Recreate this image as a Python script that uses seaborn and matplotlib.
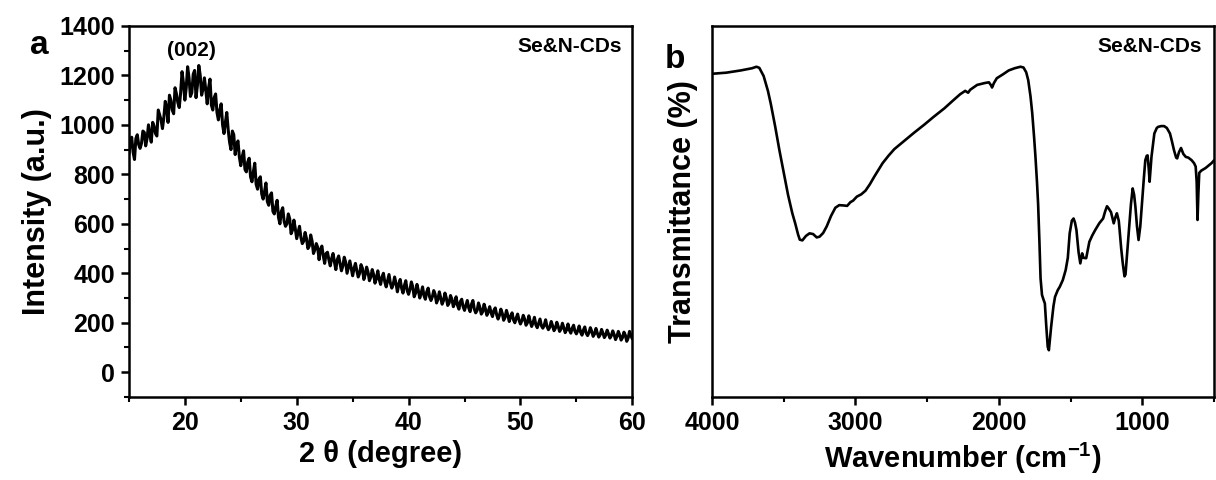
import numpy as np
import pandas as pd
import seaborn as sns
import matplotlib.pyplot as plt
from matplotlib.ticker import MultipleLocator

# XRD pattern, 2-theta from 15 to 60 in 0.25 steps
xrd_angle = np.arange(15.0, 60.01, 0.25)
xrd_intensity = [
    880, 950, 860, 960, 905, 975, 915, 1000, 930, 995, 955, 1040, 985, 1095, 1010, 1100,
    1045, 1125, 1070, 1215, 1100, 1235, 1115, 1205, 1110, 1240, 1120, 1190, 1085, 1185,
    1060, 1125, 1020, 1085, 965, 1050, 930, 975, 880, 935, 835, 895, 810, 865, 770, 845,
    740, 790, 700, 765, 675, 725, 640, 695, 600, 665, 590, 640, 560, 615, 540, 590,
    520, 565, 500, 555, 480, 520, 455, 510, 440, 485, 430, 480, 415, 470, 410, 465,
    400, 450, 390, 440, 385, 435, 375, 425, 370, 415, 360, 410, 355, 400, 345, 395,
    340, 385, 325, 375, 320, 370, 315, 365, 305, 355, 300, 345, 295, 340, 290, 330,
    280, 325, 275, 320, 270, 310, 265, 305, 255, 295, 250, 290, 245, 290, 240, 280,
    235, 275, 230, 265, 225, 260, 215, 255, 210, 250, 205, 240, 200, 235, 195, 230,
    190, 228, 185, 222, 180, 215, 178, 212, 172, 205, 168, 202, 165, 198, 160, 195,
    158, 190, 155, 187, 150, 183, 148, 180, 145, 177, 142, 173, 140, 170, 138, 167,
    132, 165, 130, 162, 125, 165, 135,
]
# in-between readings, 2-theta 15.125 ... 59.875
xrd_angle_mid = np.arange(15.125, 60.0, 0.25)
xrd_intensity_mid = [
    930, 890, 945, 920, 925, 970, 945, 960, 1010, 965, 1060, 1020,
    1030, 1070, 1120, 1060, 1150, 1090, 1130, 1170, 1150, 1190, 1130, 1220,
    1160, 1200, 1145, 1140, 1150, 1080, 1110, 1050, 1060, 1000, 1010, 980,
    900, 960, 920, 870, 870, 820, 850, 790, 810, 760, 780, 720,
    730, 690, 715, 650, 670, 625, 650, 610, 600, 620, 575, 580,
    565, 545, 530, 540, 510, 530, 495, 505, 495, 470, 480, 455,
    460, 445, 455, 440, 430, 445, 425, 420, 420, 410, 400, 420,
    395, 405, 385, 395, 380, 375, 385, 365, 370, 360, 355, 360,
    355, 340, 350, 330, 335, 345, 320, 330, 320, 310, 325, 305,
    305, 315, 295, 300, 290, 300, 280, 295, 280, 270, 285, 265,
    270, 260, 275, 255, 250, 262, 245, 255, 245, 240, 250, 232,
    230, 238, 222, 230, 225, 212, 220, 210, 208, 215, 200, 205,
    200, 192, 198, 188, 190, 185, 182, 188, 178, 185, 175, 180,
    172, 170, 178, 165, 168, 162, 170, 158, 160, 165, 155, 158,
    152, 158, 150, 155, 148, 152, 145, 150, 140, 150, 138, 148,
]

# FTIR spectrum (wavenumber in cm-1, transmittance in arbitrary %)
ftir_wn = [4000, 3900, 3800, 3720, 3690, 3670, 3640, 3610, 3590, 3560, 3530, 3500,
           3470, 3440, 3420, 3400, 3388, 3370, 3345, 3320, 3295, 3270, 3250, 3225,
           3200, 3170, 3140, 3113, 3080, 3058, 3035, 3017, 2990, 2960, 2930, 2900,
           2870, 2840, 2811, 2770, 2729, 2660, 2592, 2520, 2455, 2380, 2317, 2270,
           2235, 2215, 2200, 2152, 2100, 2070, 2055, 2048, 2035, 2015, 1970, 1932,
           1890, 1850, 1829, 1810, 1796, 1780, 1768, 1755, 1746, 1735, 1727, 1718,
           1710, 1700, 1690, 1680, 1670, 1660, 1652, 1645, 1636, 1620, 1609, 1590,
           1576, 1555, 1535, 1520, 1507, 1492, 1480, 1470, 1460, 1445, 1433, 1420,
           1411, 1392, 1370, 1350, 1329, 1301, 1274, 1260, 1247, 1235, 1219, 1200,
           1188, 1178, 1165, 1159, 1148, 1137, 1125, 1118, 1108, 1096, 1080, 1068,
           1058, 1049, 1038, 1027, 1015, 1005, 990, 980, 970, 964, 955, 950, 943,
           937, 925, 917, 900, 890, 870, 849, 830, 808, 795, 780, 765, 758, 745, 731,
           715, 698, 680, 657, 640, 629, 622, 616, 610, 604, 590, 560, 519, 500]
ftir_t = [87.1, 87.4, 88.0, 88.6, 89.0, 88.7, 86.5, 82.5, 79.0, 73.0, 66.5, 60.5,
          54.5, 49.5, 46.8, 43.8, 42.4, 42.2, 43.4, 44.1, 43.9, 43.0, 43.2, 44.2,
          46.0, 48.8, 51.0, 51.7, 51.6, 51.5, 52.5, 52.9, 54.0, 54.6, 55.6, 57.3,
          59.3, 61.2, 63.0, 65.0, 66.8, 69.0, 71.2, 73.4, 75.5, 77.8, 80.0, 81.6,
          82.5, 82.0, 82.8, 84.1, 84.6, 84.8, 84.0, 83.4, 84.6, 85.9, 87.0, 88.0,
          88.6, 89.0, 88.8, 87.5, 85.4, 81.0, 76.5, 70.0, 65.0, 58.0, 52.0, 42.0,
          32.0, 27.5, 26.3, 25.2, 19.0, 13.5, 12.6, 15.5, 19.0, 24.5, 27.0, 28.8,
          29.7, 31.5, 34.2, 37.5, 44.1, 47.5, 48.1, 47.0, 45.0, 39.0, 36.0, 38.7,
          37.5, 37.4, 41.8, 43.5, 45.0, 46.8, 48.1, 50.0, 51.4, 50.8, 49.8, 46.8,
          48.5, 49.5, 47.5, 45.0, 40.0, 36.0, 32.5, 33.0, 38.0, 44.1, 52.0, 56.2,
          54.5, 51.3, 46.0, 42.3, 46.0, 51.3, 59.0, 63.8, 65.0, 65.1, 61.0, 58.0,
          61.5, 64.7, 68.5, 71.0, 72.5, 72.8, 73.0, 73.0, 72.5, 71.0, 69.0, 66.5,
          64.5, 64.3, 66.0, 67.1, 65.5, 64.7, 64.5, 63.8, 63.0, 62.1, 58.0, 47.7,
          55.0, 60.4, 61.0, 61.7, 63.0, 63.8]

xrd_df = pd.DataFrame({
    "angle": np.concatenate([xrd_angle, xrd_angle_mid]),
    "intensity": xrd_intensity + xrd_intensity_mid,
}).sort_values("angle")
ftir_df = pd.DataFrame({"wn": ftir_wn, "t": ftir_t})

sns.set_theme(style="ticks")
plt.rcParams["font.family"] = ["Liberation Sans", "DejaVu Sans"]
plt.rcParams["font.weight"] = "bold"
plt.rcParams["text.color"] = "black"
plt.rcParams["axes.labelcolor"] = "black"
plt.rcParams["mathtext.fontset"] = "custom"
plt.rcParams["mathtext.rm"] = "Liberation Sans:bold"
plt.rcParams["mathtext.bf"] = "Liberation Sans:bold"
plt.rcParams["mathtext.default"] = "bf"
plt.rcParams["axes.linewidth"] = 1.8
for ax_name in ("xtick", "ytick"):
    plt.rcParams[ax_name + ".major.width"] = 1.8
    plt.rcParams[ax_name + ".minor.width"] = 1.5
    plt.rcParams[ax_name + ".major.size"] = 6
    plt.rcParams[ax_name + ".minor.size"] = 3.5
    plt.rcParams[ax_name + ".color"] = "black"
    plt.rcParams[ax_name + ".labelcolor"] = "black"

fig = plt.figure(figsize=(12.16, 4.8), dpi=100)
ax1 = fig.add_axes([0.106, 0.173, 0.414, 0.773])
ax2 = fig.add_axes([0.5855, 0.173, 0.413, 0.773])

# panel a: XRD
sns.lineplot(data=xrd_df, x="angle", y="intensity", ax=ax1, color="black",
             linewidth=2.2, estimator=None, sort=False)
ax1.set_xlim(15, 60)
ax1.set_ylim(-100, 1400)
ax1.xaxis.set_major_locator(MultipleLocator(10))
ax1.xaxis.set_minor_locator(MultipleLocator(5))
ax1.yaxis.set_major_locator(MultipleLocator(200))
ax1.yaxis.set_minor_locator(MultipleLocator(100))
ax1.set_xticks([20, 30, 40, 50, 60])
ax1.tick_params(labelsize=18, pad=4)
ax1.set_xlabel("2 \u03b8 (degree)", fontsize=21, fontweight="bold", labelpad=4)
ax1.set_ylabel("Intensity (a.u.)", fontsize=22, fontweight="bold", labelpad=5)
ax1.text(20.6, 1300, "(002)", ha="center", va="center", fontsize=15, fontweight="bold")
ax1.text(0.98, 0.945, "Se&N-CDs", transform=ax1.transAxes, ha="right", va="center",
         fontsize=15, fontweight="bold")
fig.text(0.025, 0.905, "a", fontsize=24, fontweight="bold", ha="left", va="center")

# panel b: FTIR
sns.lineplot(data=ftir_df, x="wn", y="t", ax=ax2, color="black",
             linewidth=1.9, estimator=None, sort=False)
ax2.set_xlim(4000, 500)
ax2.set_ylim(0, 100)
ax2.xaxis.set_major_locator(MultipleLocator(1000))
ax2.xaxis.set_minor_locator(MultipleLocator(500))
ax2.set_yticks([])
ax2.tick_params(labelsize=18, pad=4)
ax2.set_xlabel("Wavenumber (cm$^{-1}$)", fontsize=21, fontweight="bold", labelpad=4)
ax2.set_ylabel("Transmittance (%)", fontsize=22, fontweight="bold", labelpad=10)
ax2.text(0.975, 0.945, "Se&N-CDs", transform=ax2.transAxes, ha="right", va="center",
         fontsize=15, fontweight="bold")
fig.text(0.547, 0.875, "b", fontsize=24, fontweight="bold", ha="left", va="center")

for ax in (ax1, ax2):
    for s in ax.spines.values():
        s.set_visible(True)
        s.set_color("black")
        s.set_linewidth(1.8)
    ax.tick_params(which="both", direction="out", top=False, right=False)

fig.savefig("out.png", dpi=100)
